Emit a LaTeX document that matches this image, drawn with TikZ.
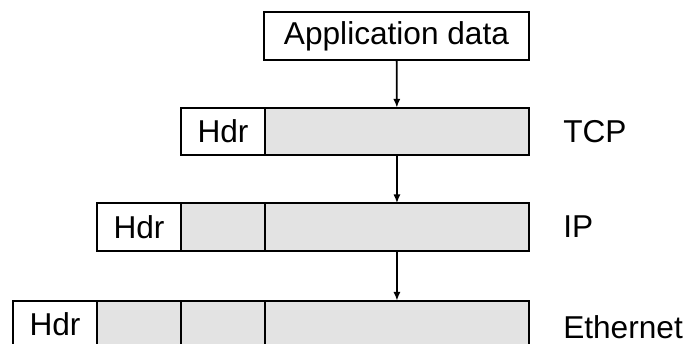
\documentclass[tikz,border=0pt]{standalone}
\usepackage{fontspec}
\setmainfont{Liberation Sans}
\usetikzlibrary{positioning,arrows.meta}
\begin{document}
\begin{tikzpicture}[x=0.02cm,y=-0.02cm,font=\fontsize{18}{20}\selectfont,
  box/.style={draw,line width=1pt,inner sep=0,outer sep=0,minimum height=0.95cm},
  hdr/.style={box,minimum width=1.68cm},
  pay/.style={box,fill=black!11,minimum width=1.68cm},
  data/.style={box,fill=black!11,minimum width=5.28cm},
  layer/.style={inner sep=0,right=0.68cm of #1},
  down/.style={-{Latex[length=5pt,width=4pt]},line width=1pt}]
\useasboundingbox (0,0) rectangle (693,343);
\node[box,minimum width=5.3cm] (app) at (396.5,36) {Application data};
% TCP
\node[hdr] (tcphdr) at (223,131.5) {Hdr};
\node[data,right=0 of tcphdr] (tcpdata) {};
\node[layer=tcpdata] (tcp) {TCP};
% IP
\node[hdr] (iphdr) at (139,227) {Hdr};
\node[pay,right=0 of iphdr] (ippay) {};
\node[data,right=0 of ippay] (ipdata) {};
\node[layer=ipdata] (ip) {IP};
% Ethernet
\node[hdr] (ethhdr) at (55,324.5) {Hdr};
\node[pay,right=0 of ethhdr] (ethpay1) {};
\node[pay,right=0 of ethpay1] (ethpay2) {};
\node[data,right=0 of ethpay2] (ethdata) {};
\node[layer=ethdata,yshift=-0.05cm] (eth) {Ethernet};
\draw[down] (app) -- (tcpdata);
\draw[down] (tcpdata) -- (ipdata);
\draw[down] (ipdata) -- (ethdata);
\end{tikzpicture}
\end{document}
